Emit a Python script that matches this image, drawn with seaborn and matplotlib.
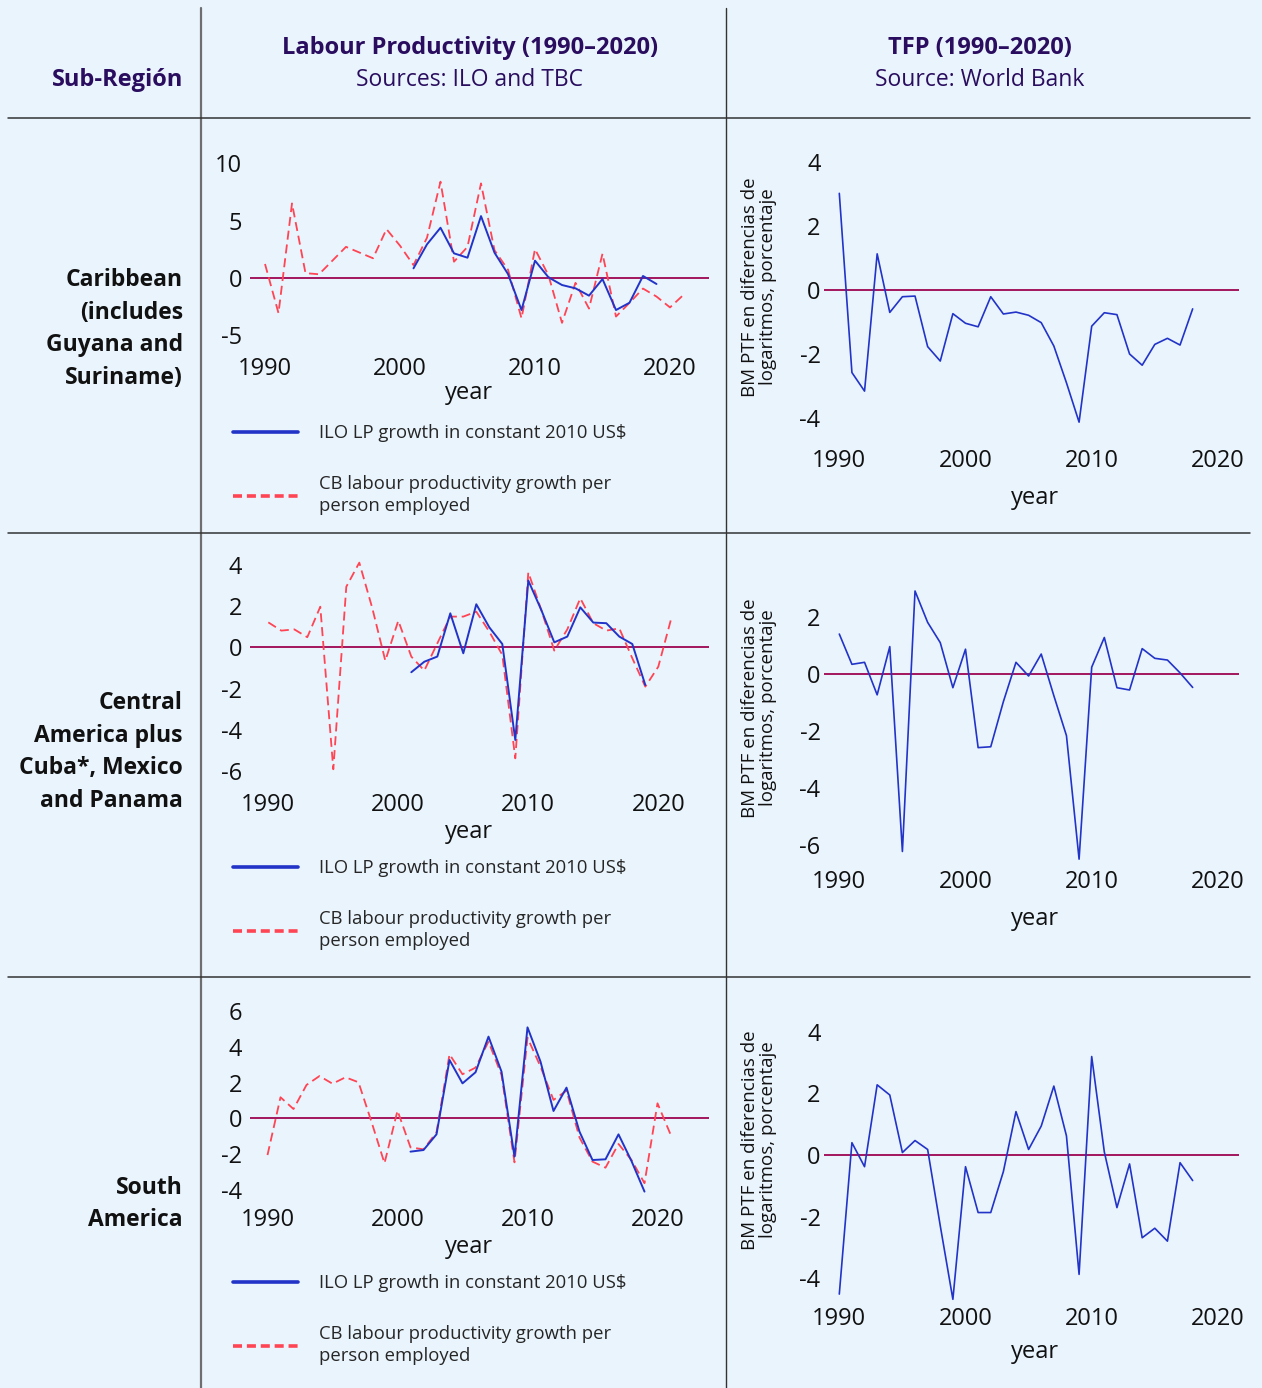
import numpy as np
import pandas as pd
import matplotlib
matplotlib.use("Agg")
import matplotlib.pyplot as plt
import seaborn as sns

# ---------------- data ----------------
years_cb = list(range(1990, 2022))
years_ilo = list(range(2001, 2020))
years_tfp = list(range(1990, 2019))

car_cb = [1.2, -3.1, 6.5, 0.4, 0.3, 1.5, 2.7, 2.2, 1.7, 4.25, 2.8, 1.1, 3.5, 8.4, 1.4, 2.7,
          8.25, 2.4, 0.7, -3.55, 2.5, 0.2, -3.95, -0.45, -2.7, 2.1, -3.4, -2.2, -0.95, -1.65,
          -2.6, -1.5]
car_ilo = [0.82, 2.92, 4.37, 2.13, 1.75, 5.39, 2.19, 0.32, -2.83, 1.49, 0.03, -0.64, -0.93,
           -1.57, -0.12, -2.83, -2.19, 0.15, -0.55]
car_tfp = [3.02, -2.58, -3.16, 1.13, -0.70, -0.21, -0.19, -1.77, -2.22, -0.74, -1.04, -1.15,
           -0.21, -0.75, -0.69, -0.79, -1.02, -1.75, -2.9, -4.13, -1.13, -0.71, -0.77, -2.0,
           -2.35, -1.70, -1.51, -1.72, -0.59]

cam_cb = [1.21, 0.81, 0.87, 0.49, 1.97, -5.92, 2.94, 4.11, 1.9, -0.65, 1.29, -0.45, -1.13,
          0.19, 1.49, 1.49, 1.73, 0.76, -0.37, -5.39, 3.64, 1.81, -0.16, 0.87, 2.38, 1.17,
          0.81, 0.92, -0.53, -1.91, -0.94, 1.41]
cam_ilo = [-1.21, -0.70, -0.45, 1.65, -0.29, 2.09, 0.97, 0.16, -4.50, 3.24, 1.81, 0.24, 0.52,
           1.94, 1.20, 1.17, 0.52, 0.16, -1.83]
cam_tfp = [1.41, 0.35, 0.42, -0.72, 0.97, -6.21, 2.92, 1.82, 1.11, -0.47, 0.88, -2.57, -2.54,
           -0.96, 0.42, -0.06, 0.71, -0.75, -2.15, -6.48, 0.25, 1.29, -0.47, -0.55, 0.90, 0.56,
           0.50, 0.05, -0.46]

sam_cb = [-2.06, 1.18, 0.52, 1.87, 2.37, 1.94, 2.30, 2.02, -0.2, -2.52, 0.43, -1.63, -1.74,
          -0.79, 3.59, 2.47, 2.84, 4.30, 2.43, -2.47, 4.52, 2.90, 1.03, 1.55, -1.08, -2.43,
          -2.77, -1.44, -2.34, -3.64, 0.84, -0.90]
sam_ilo = [-1.87, -1.78, -0.90, 3.27, 1.96, 2.58, 4.58, 2.62, -2.15, 5.10, 3.18, 0.41, 1.72,
           -0.75, -2.34, -2.30, -0.90, -2.4, -4.11]
sam_tfp = [-4.52, 0.40, -0.38, 2.28, 1.95, 0.08, 0.47, 0.18, -2.3, -4.69, -0.38, -1.87, -1.87,
           -0.54, 1.41, 0.18, 0.94, 2.24, 0.62, -3.88, 3.20, 0.1, -1.71, -0.29, -2.69, -2.38,
           -2.80, -0.25, -0.83]

regions = ["Caribbean\n(includes\nGuyana and\nSuriname)",
           "Central\nAmerica plus\nCuba*, Mexico\nand Panama",
           "South\nAmerica"]
header_lp = ["Labour Productivity (1990\u20132020)", "Sources: ILO and TBC"]
header_tfp = ["TFP (1990\u20132020)", "Source: World Bank"]
label_ilo = "ILO LP growth in constant 2010 US$"
label_cb = "CB labour productivity growth per\nperson employed"
tfp_ylabel = "BM PTF en diferencias de\nlogaritmos, porcentaje"
xticks = [1990, 2000, 2010, 2020]
lp_yticks = [[-5, 0, 5, 10], [-6, -4, -2, 0, 2, 4], [-4, -2, 0, 2, 4, 6]]
tfp_yticks = [[-4, -2, 0, 2, 4], [-6, -4, -2, 0, 2], [-4, -2, 0, 2, 4]]

# ---------------- style ----------------
BG = "#EAF4FD"
BLUE = "#2233C8"
RED = "#FF4453"
ZERO = "#A3155E"
HEAD = "#2A0D5E"

sns.set_theme(style="white", rc={"axes.facecolor": BG, "figure.facecolor": BG})
plt.rcParams["font.family"] = ["Open Sans", "Noto Sans", "DejaVu Sans"]
plt.rcParams["axes.unicode_minus"] = False
plt.rcParams["lines.scale_dashes"] = False

W, H = 1262, 1388
fig = plt.figure(figsize=(W / 100, H / 100), dpi=100, facecolor=BG)


def add_ax(l, r, t, b):
    ax = fig.add_axes([l / W, 1 - b / H, (r - l) / W, (b - t) / H])
    ax.set_facecolor(BG)
    for s in ax.spines.values():
        s.set_visible(False)
    return ax


def set_limits(ax, l, r, t, b, x0px, xs, zpx, ys):
    ax.set_xlim(1990 + (l - x0px) / xs, 1990 + (r - x0px) / xs)
    ax.set_ylim((zpx - b) / ys, (zpx - t) / ys)


def place_xlabel(ax, l, r, t, b, cx, cy):
    ax.set_xlabel("year", fontsize=17, color="#111111")
    ax.xaxis.label.set_verticalalignment("center")
    ax.xaxis.set_label_coords((cx - l) / (r - l), (b - cy) / (b - t))


# ---- table lines ----
line_ax = fig.add_axes([0, 0, 1, 1], zorder=-1)
line_ax.set_xlim(0, W)
line_ax.set_ylim(H, 0)
line_ax.axis("off")
line_ax.plot([201, 201], [8, H], color="#6E6E6E", lw=1.6)
line_ax.plot([726, 726], [8, H], color="#333333", lw=1.0)
for yy in [118, 533, 977]:
    line_ax.plot([8, 1250], [yy, yy], color="#333333", lw=1.1)

# ---- headers ----
fig.text(183 / W, 1 - 80 / H, "Sub-Regi\u00f3n", ha="right", va="center",
         fontsize=17, fontweight="bold", color=HEAD)
fig.text(470 / W, 1 - 48 / H, header_lp[0], ha="center", va="center",
         fontsize=17, fontweight="bold", color=HEAD)
fig.text(470 / W, 1 - 80 / H, header_lp[1], ha="center", va="center",
         fontsize=16.5, color=HEAD)
fig.text(980 / W, 1 - 48 / H, header_tfp[0], ha="center", va="center",
         fontsize=17, fontweight="bold", color=HEAD)
fig.text(980 / W, 1 - 80 / H, header_tfp[1], ha="center", va="center",
         fontsize=16.5, color=HEAD)

# ---- row labels ----
for txt, cy in zip(regions, [329, 752, 1204]):
    fig.text(183 / W, 1 - cy / H, txt, ha="right", va="center", fontsize=16.5,
             fontweight="bold", color="#111111", linespacing=1.47)

# ---- LP panels ----
lp_data = [(car_cb, car_ilo), (cam_cb, cam_ilo), (sam_cb, sam_ilo)]
# l, r, t, b, x0px(1990), px/yr, zero px, px/unit, xlabel y, legend top
lp_geo = [
    (250, 709, 150, 348, 265.0, 13.5, 277.7, 11.43, 393, 424),
    (250, 709, 555, 784, 268.3, 13.0, 647.3, 20.6, 832, 859),
    (250, 709, 1000, 1199, 267.5, 13.0, 1118.3, 17.83, 1247, 1274),
]
for (cb, ilo), g, yt in zip(lp_data, lp_geo, lp_yticks):
    l, r, t, b, x0, xs, zp, ys, ylab, legtop = g
    ax = add_ax(l, r, t, b)
    ax.axhline(0, color=ZERO, lw=1.4, zorder=1)
    sns.lineplot(x=years_ilo, y=ilo, ax=ax, color=BLUE, linewidth=1.4,
                 label=label_ilo, zorder=3)
    sns.lineplot(x=years_cb, y=cb, ax=ax, color=RED, linewidth=1.3,
                 linestyle=(0, (6.5, 3.5)), label=label_cb, zorder=2)
    set_limits(ax, l, r, t, b, x0, xs, zp, ys)
    ax.set_xticks(xticks)
    ax.set_yticks(yt)
    ax.tick_params(axis="both", length=0, labelsize=17, colors="#111111")
    ax.tick_params(axis="y", pad=5.5)
    ax.tick_params(axis="x", pad=6.5)
    place_xlabel(ax, l, r, t, b, 469, ylab)
    handles, labels = ax.get_legend_handles_labels()
    leg = ax.legend(handles, labels, loc="upper left",
                    bbox_to_anchor=(233 / W, 1 - legtop / H),
                    bbox_transform=fig.transFigure, frameon=False, fontsize=13.3,
                    handlelength=3.5, handletextpad=1.15, labelspacing=1.8,
                    borderpad=0, borderaxespad=0)
    for txt in leg.get_texts():
        txt.set_linespacing(1.3)
    for ln in leg.get_lines():
        ln.set_linewidth(2.6)

# ---- TFP panels ----
tfp_data = [car_tfp, cam_tfp, sam_tfp]
# l, r, t, b, x0px, px/yr, zero px, px/unit, xlabel y, ylabel center y
tfp_geo = [
    (824, 1239, 150, 443, 839.3, 12.62, 290.0, 32.0, 498, 287),
    (824, 1239, 580, 864, 839.3, 12.62, 674.3, 28.53, 919, 708),
    (824, 1239, 1020, 1301, 839.3, 12.62, 1155.0, 30.77, 1352, 1140),
]
for vals, g, yt in zip(tfp_data, tfp_geo, tfp_yticks):
    l, r, t, b, x0, xs, zp, ys, ylab, ylc = g
    ax = add_ax(l, r, t, b)
    ax.axhline(0, color=ZERO, lw=1.4, zorder=1)
    sns.lineplot(x=years_tfp, y=vals, ax=ax, color=BLUE, linewidth=1.2, zorder=3)
    set_limits(ax, l, r, t, b, x0, xs, zp, ys)
    ax.set_xticks(xticks)
    ax.set_yticks(yt)
    ax.tick_params(axis="both", length=0, labelsize=17, colors="#111111")
    ax.tick_params(axis="y", pad=2.5)
    ax.tick_params(axis="x", pad=4.5)
    place_xlabel(ax, l, r, t, b, 1035, ylab)
    ax.set_ylabel(tfp_ylabel, fontsize=13.5, color="#111111", linespacing=1.05)
    ax.yaxis.label.set_verticalalignment("center")
    ax.yaxis.set_label_coords((759 - l) / (r - l), (b - ylc) / (b - t))

fig.savefig("out.png", dpi=100, facecolor=BG)
